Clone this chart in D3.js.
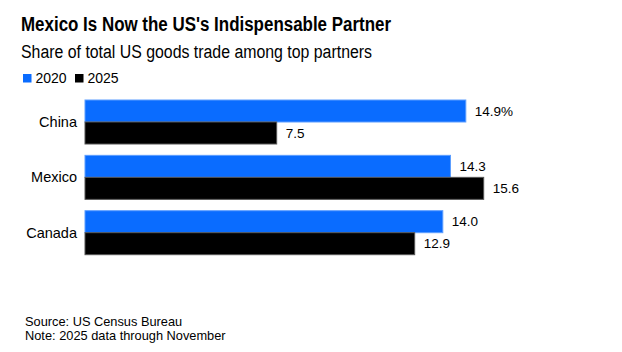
<!DOCTYPE html>
<html>
<head>
<meta charset="utf-8">
<script src="https://cdn.jsdelivr.net/npm/d3@7"></script>
<style>
  html, body { margin: 0; padding: 0; background: #fff; }
  svg text { font-family: "Liberation Sans", Arial, sans-serif; fill: #000; }
</style>
</head>
<body>
<div id="chart"></div>
<script>
// Chart data
const categories = ["China", "Mexico", "Canada"];
const seriesNames = ["2020", "2025"];
const values2020 = [14.9, 14.3, 14.0];
const values2025 = [7.5, 15.6, 12.9];
const seriesColors = ["#0a6cff", "#000000"];
const seriesStrokes = ["#5c9dff", "#555555"];

const width = 622, height = 352;

const svg = d3.select("#chart").append("svg")
    .attr("width", width)
    .attr("height", height);

// Title + subtitle
svg.append("text")
    .attr("x", 21).attr("y", 31)
    .style("font-size", "20px")
    .style("font-weight", "bold")
    .attr("textLength", 370)
    .attr("lengthAdjust", "spacingAndGlyphs")
    .text("Mexico Is Now the US's Indispensable Partner");

svg.append("text")
    .attr("x", 21).attr("y", 58)
    .style("font-size", "18px")
    .attr("textLength", 351)
    .attr("lengthAdjust", "spacingAndGlyphs")
    .text("Share of total US goods trade among top partners");

// Legend
const legendX = [23, 75];
const legend = svg.append("g");
seriesNames.forEach((name, i) => {
    legend.append("rect")
        .attr("x", legendX[i]).attr("y", 74)
        .attr("width", 8.5).attr("height", 8.5)
        .attr("fill", seriesColors[i]);
    legend.append("text")
        .attr("x", legendX[i] + 12.5).attr("y", 83)
        .style("font-size", "14px")
        .text(name);
});

// Scales
const rows = categories.map((c, i) => ({ name: c, values: [values2020[i], values2025[i]] }));

const x = d3.scaleLinear()
    .domain([0, d3.max(rows, d => d3.max(d.values))])
    .range([85, 483.7]);

const y = d3.scaleBand()
    .domain(categories)
    .range([100, 254.7])
    .paddingInner(0.205)
    .paddingOuter(0);

const ySub = d3.scaleBand()
    .domain(seriesNames)
    .range([0, y.bandwidth()]);

// Category labels
svg.append("g")
    .selectAll("text")
    .data(rows)
    .join("text")
    .attr("x", 77)
    .attr("y", d => y(d.name) + y.bandwidth() / 2)
    .attr("dy", "0.35em")
    .attr("text-anchor", "end")
    .style("font-size", "14.5px")
    .text(d => d.name);

// Bars
const groups = svg.append("g")
    .selectAll("g")
    .data(rows)
    .join("g")
    .attr("transform", d => `translate(0,${y(d.name)})`);

const cells = groups.selectAll("g")
    .data(d => d.values.map((v, i) => ({ series: seriesNames[i], i, v, first: d.name === categories[0] })))
    .join("g");

cells.append("rect")
    .attr("x", x(0))
    .attr("y", d => ySub(d.series))
    .attr("width", d => x(d.v) - x(0))
    .attr("height", ySub.bandwidth())
    .attr("fill", d => seriesColors[d.i])
    .attr("stroke", d => seriesStrokes[d.i])
    .attr("stroke-width", 1);

cells.append("text")
    .attr("x", d => x(d.v) + 9)
    .attr("y", d => ySub(d.series) + ySub.bandwidth() / 2)
    .attr("dy", "0.35em")
    .style("font-size", "13.5px")
    .text(d => d3.format(".1f")(d.v) + (d.first && d.i === 0 ? "%" : ""));

// Footer
svg.append("text")
    .attr("x", 25).attr("y", 326)
    .style("font-size", "12.8px")
    .text("Source: US Census Bureau");
svg.append("text")
    .attr("x", 25).attr("y", 340)
    .style("font-size", "12.8px")
    .text("Note: 2025 data through November");
</script>
</body>
</html>
